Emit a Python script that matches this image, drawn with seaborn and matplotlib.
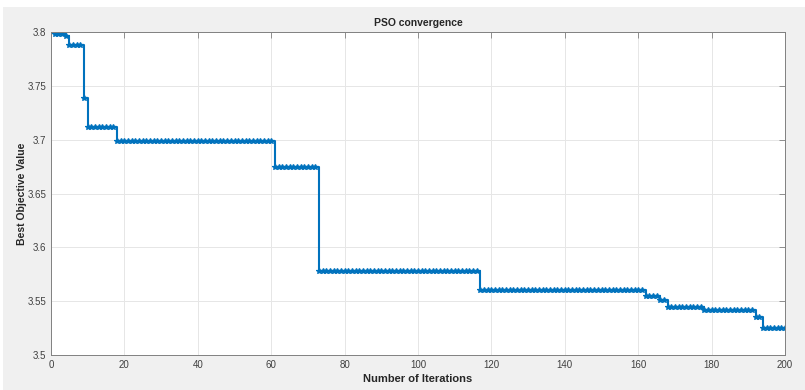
import numpy as np
import pandas as pd
import matplotlib
matplotlib.use("Agg")
import matplotlib.pyplot as plt
import seaborn as sns
from matplotlib.patches import Rectangle
from matplotlib.ticker import FormatStrFormatter

# valores (nível da curva e quantas iterações fica nele)
niveis = [3.798, 3.796, 3.788, 3.739, 3.712, 3.699, 3.675, 3.578,
          3.560, 3.555, 3.551, 3.545, 3.542, 3.535, 3.525]
duracoes = [3, 1, 4, 1, 8, 43, 12, 44, 45, 4, 2, 10, 14, 2, 7]
xticks = [0, 20, 40, 60, 80, 100, 120, 140, 160, 180, 200]
yticks = [3.5, 3.55, 3.6, 3.65, 3.7, 3.75, 3.8]

iteracoes = np.arange(1, sum(duracoes) + 1)
melhor = np.repeat(niveis, duracoes)
df = pd.DataFrame({"iter": iteracoes, "best": melhor})

sns.set_style("white")
plt.rcParams['font.family'] = ['Liberation Sans', 'DejaVu Sans']

fig = plt.figure(figsize=(8.05, 3.9), dpi=100)
fig.patch.set_facecolor("white")
fundo = Rectangle((3 / 805, 0), 1, 1 - 7 / 390, transform=fig.transFigure,
                  facecolor="#f0f0f0", edgecolor="none", zorder=-10)
fig.add_artist(fundo)
ax = fig.add_axes([51 / 805, 1 - 355 / 390, (785 - 51) / 805, (355 - 32) / 390])
ax.set_facecolor("white")

sns.lineplot(data=df, x="iter", y="best", ax=ax, color="#0072BD", linewidth=1.5,
             drawstyle="steps-post", marker="*", markersize=4,
             markeredgewidth=0.9, markeredgecolor="#0072BD")

ax.set_xlim(0, 200)
ax.set_ylim(3.5, 3.8)
ax.set_xticks(xticks)
ax.set_yticks(yticks)
ax.yaxis.set_major_formatter(FormatStrFormatter('%g'))
ax.grid(True, color="#e6e6e6", linewidth=0.7)
ax.set_axisbelow(True)
ax.tick_params(direction="in", length=4, width=0.6, colors="#808080",
               labelcolor="#404040", labelsize=7, top=True, right=True)
for s in ax.spines.values():
    s.set_visible(True)
    s.set_color("#808080")
    s.set_linewidth(0.7)

ax.set_title("PSO convergence", fontsize=7.5, fontweight="bold", pad=4)
ax.set_xlabel("Number of Iterations", fontsize=8, fontweight="bold", labelpad=3)
ax.set_ylabel("Best Objective Value", fontsize=7.5, fontweight="bold")
ax.yaxis.set_label_coords(-0.033, 0.5)

fig.savefig("out.png", dpi=100, facecolor=fig.get_facecolor())
